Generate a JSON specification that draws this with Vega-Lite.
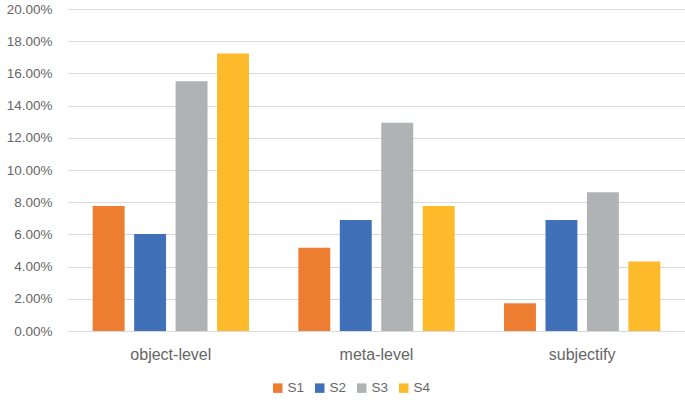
{
  "$schema": "https://vega.github.io/schema/vega-lite/v6.json",
  "autosize": {"type": "none"},
  "padding": {"left": 68, "top": 9, "right": 0, "bottom": 73},
  "width": 617,
  "height": 322,
  "background": "white",
  "data": {
    "values": [
      {"category": "object-level", "series": "S1", "value": 0.0776},
      {"category": "object-level", "series": "S2", "value": 0.0603},
      {"category": "object-level", "series": "S3", "value": 0.1552},
      {"category": "object-level", "series": "S4", "value": 0.1724},
      {"category": "meta-level", "series": "S1", "value": 0.0517},
      {"category": "meta-level", "series": "S2", "value": 0.0690},
      {"category": "meta-level", "series": "S3", "value": 0.1293},
      {"category": "meta-level", "series": "S4", "value": 0.0776},
      {"category": "subjectify", "series": "S1", "value": 0.0172},
      {"category": "subjectify", "series": "S2", "value": 0.0690},
      {"category": "subjectify", "series": "S3", "value": 0.0862},
      {"category": "subjectify", "series": "S4", "value": 0.0431}
    ]
  },
  "mark": {"type": "bar"},
  "encoding": {
    "x": {
      "field": "category",
      "type": "nominal",
      "sort": ["object-level", "meta-level", "subjectify"],
      "scale": {"paddingInner": 0.24, "paddingOuter": 0.12},
      "axis": {
        "title": null,
        "labelAngle": 0,
        "ticks": false,
        "domain": false,
        "grid": false,
        "labelPadding": 15,
        "labelFont": "Liberation Sans",
        "labelFontSize": 16,
        "labelColor": "#666666"
      }
    },
    "xOffset": {
      "field": "series",
      "type": "nominal",
      "scale": {"paddingInner": 0.23, "paddingOuter": 0}
    },
    "y": {
      "field": "value",
      "type": "quantitative",
      "scale": {"domain": [0, 0.2], "nice": false},
      "axis": {
        "title": null,
        "format": ".2%",
        "values": [0, 0.02, 0.04, 0.06, 0.08, 0.1, 0.12, 0.14, 0.16, 0.18, 0.2],
        "ticks": false,
        "domain": false,
        "labelPadding": 16,
        "labelFont": "Liberation Sans",
        "labelFontSize": 13.5,
        "labelColor": "#666666",
        "gridColor": "#D9D9D9",
        "gridWidth": 1
      }
    },
    "color": {
      "field": "series",
      "type": "nominal",
      "scale": {
        "domain": ["S1", "S2", "S3", "S4"],
        "range": ["#ED7D31", "#4070B8", "#B1B2B4", "#FDBA2A"]
      },
      "legend": {
        "title": null,
        "orient": "none",
        "direction": "horizontal",
        "legendX": 203,
        "legendY": 372,
        "symbolType": "square",
        "symbolSize": 90,
        "symbolStrokeWidth": 0,
        "symbolOpacity": 1,
        "labelOffset": 3,
        "columnPadding": 8,
        "labelFont": "Liberation Sans",
        "labelFontSize": 13.5,
        "labelColor": "#666666"
      }
    }
  },
  "config": {
    "view": {"stroke": null}
  }
}
